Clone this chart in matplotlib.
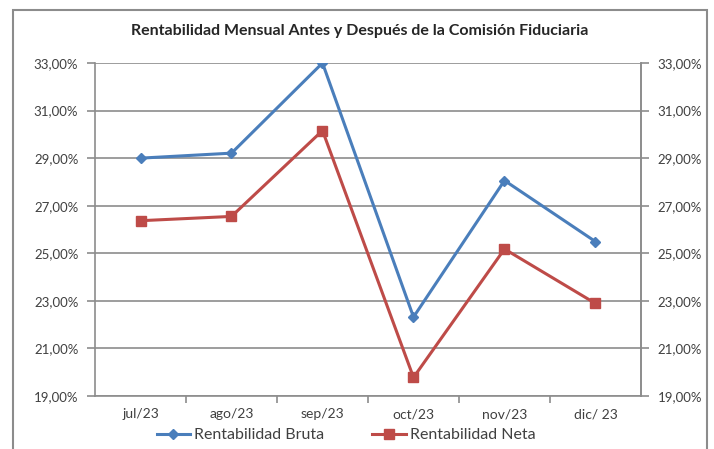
import matplotlib
matplotlib.use("Agg")
import matplotlib.pyplot as plt
from matplotlib.patches import Rectangle
from matplotlib.ticker import FuncFormatter, FixedLocator

months = ["jul/23", "ago/23", "sep/23", "oct/23", "nov/23", "dic/ 23"]
bruta = [29.00, 29.21, 33.00, 22.32, 28.06, 25.49]
neta = [26.37, 26.55, 30.16, 19.78, 25.18, 22.89]
y_ticks = [19, 21, 23, 25, 27, 29, 31, 33]

blue = "#4a7ebb"
red = "#be4b48"
gray = "#8c8c8c"
text_color = "#404040"

plt.rcParams["font.family"] = ["Lato", "DejaVu Sans"]

fig = plt.figure(figsize=(7.14, 4.49), dpi=100)
ax = fig.add_axes([95 / 714, 53 / 449, 546 / 714, 333 / 449])

x = list(range(len(months)))
ax.plot(x, bruta, color=blue, lw=2.2, marker="D", ms=5.5, label="Rentabilidad Bruta")
ax.plot(x, neta, color=red, lw=2.2, marker="s", ms=6.5, label="Rentabilidad Neta")

ax.set_xlim(-0.5, len(months) - 0.5)
ax.set_ylim(19, 33)

fmt = FuncFormatter(lambda v, p: f"{v:.2f}".replace(".", ",") + "%")
ax.yaxis.set_major_locator(FixedLocator(y_ticks))
ax.yaxis.set_major_formatter(fmt)
ax.yaxis.grid(True, color=gray, lw=1.2)
ax.set_axisbelow(True)

ax.set_xticks(x)
ax.set_xticklabels(months)
ax.xaxis.set_minor_locator(FixedLocator([i + 0.5 for i in x[:-1]]))
ax.tick_params(axis="x", which="major", length=0, pad=9, labelsize=10, labelcolor=text_color)
ax.tick_params(axis="x", which="minor", length=5, width=1.2, color=gray, direction="out")
ax.tick_params(axis="y", length=6, width=1.2, color=gray, labelsize=9.5, labelcolor=text_color, pad=6)

for side in ["left", "bottom", "right"]:
    ax.spines[side].set_color(gray)
    ax.spines[side].set_linewidth(1.2)
ax.spines["top"].set_visible(False)

ax2 = ax.twinx()
ax2.set_ylim(19, 33)
ax2.yaxis.set_major_locator(FixedLocator(y_ticks))
ax2.yaxis.set_major_formatter(fmt)
ax2.tick_params(axis="y", length=6, width=1.2, color=gray, labelsize=9.5, labelcolor=text_color, pad=6)
for side in ["left", "bottom", "top"]:
    ax2.spines[side].set_visible(False)
ax2.spines["right"].set_color(gray)
ax2.spines["right"].set_linewidth(1.2)

fig.text(360 / 714, 1 - 31 / 449, "Rentabilidad Mensual Antes y Después de la Comisión Fiduciaria",
         ha="center", va="center", fontsize=11.5, fontweight="bold", color="#262626")

fig.legend(loc="center", bbox_to_anchor=(346 / 714, 1 - 435 / 449), ncol=2, frameon=False,
           fontsize=11.5, handlelength=2.1, handletextpad=0.25, columnspacing=3.0,
           labelcolor=text_color)

fig.patches.append(Rectangle((13 / 714, -0.05), 694 / 714, 1.05 - 10 / 449,
                             transform=fig.transFigure, fill=False, edgecolor=gray, lw=1.5))

fig.savefig("out.png", dpi=100, facecolor="white")
